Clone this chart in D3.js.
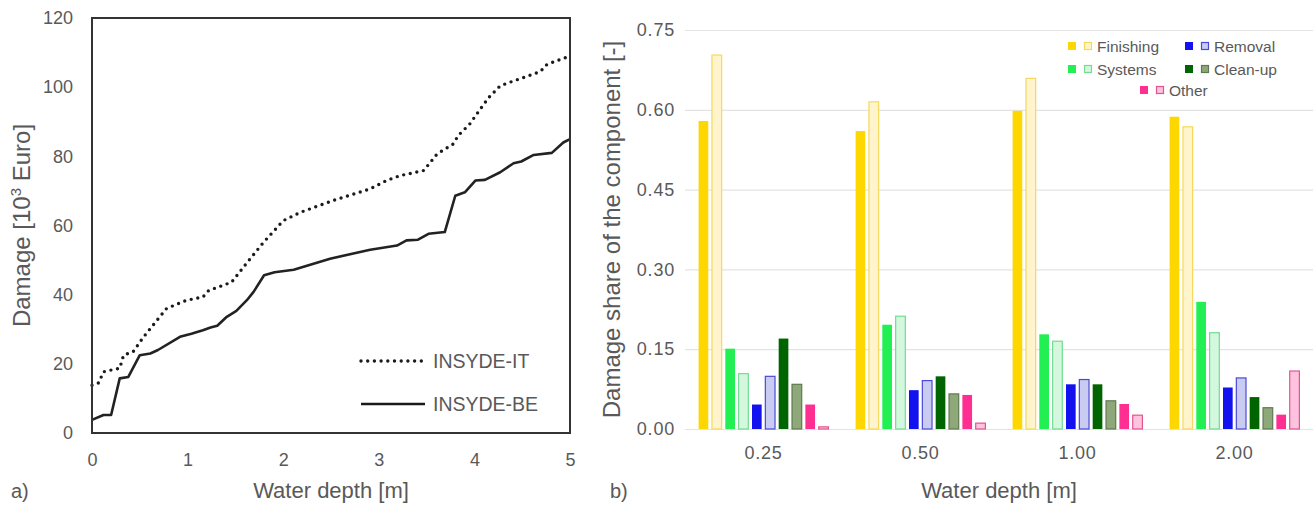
<!DOCTYPE html>
<html>
<head>
<meta charset="utf-8">
<script src="https://cdn.jsdelivr.net/npm/d3@7"></script>
<style>
  body { margin: 0; background: #fff; }
  svg text { font-family: "Liberation Sans", Arial, sans-serif; fill: #595959; }
</style>
</head>
<body>
<div id="chart"></div>
<script>
// ---- data: panel a) damage curves ----
var depthsBE = [0, 0.12, 0.2, 0.29, 0.38, 0.5, 0.61, 0.69, 0.92, 1.04, 1.16, 1.24, 1.31, 1.41, 1.51, 1.62, 1.69, 1.8, 1.91, 2.11, 2.49, 2.91, 3.19, 3.29, 3.41, 3.52, 3.69, 3.8, 3.9, 4.01, 4.11, 4.27, 4.41, 4.49, 4.62, 4.81, 4.93, 5];
var damageBE = [3.8, 5.2, 5.2, 15.8, 16.2, 22.5, 23, 24, 27.8, 28.7, 29.7, 30.5, 31, 33.6, 35.3, 38.4, 40.8, 45.6, 46.5, 47.2, 50.4, 53, 54.2, 55.7, 55.9, 57.6, 58.1, 68.6, 69.6, 73, 73.2, 75.4, 78, 78.5, 80.4, 81, 84, 85];

var depthsIT = [0, 0.07, 0.12, 0.2, 0.29, 0.33, 0.43, 0.54, 0.68, 0.78, 0.99, 1.16, 1.22, 1.46, 1.6, 1.79, 2.0, 2.18, 2.52, 2.91, 3.08, 3.22, 3.47, 3.61, 3.78, 3.83, 3.95, 4.06, 4.15, 4.27, 4.41, 4.69, 4.76, 5];
var damageIT = [13.8, 14.5, 17.7, 18.2, 18.7, 22.5, 23.5, 27.8, 32.6, 36, 38.4, 39.3, 41.2, 43.6, 48.5, 55, 61.4, 63.8, 67.2, 70.6, 73, 74.4, 75.9, 80.7, 83.6, 86, 89.3, 93.6, 97, 100.4, 101.8, 104.5, 106.6, 109];

var lineTicksX = [0, 1, 2, 3, 4, 5];
var lineTicksY = [0, 20, 40, 60, 80, 100, 120];

// ---- data: panel b) damage shares ----
var depthLabels = ["0.25", "0.50", "1.00", "2.00"];
var components = ["Finishing", "Systems", "Removal", "Clean-up", "Other"];

var finishingSolid = [0.579, 0.560, 0.598, 0.587];
var finishingLight = [0.703, 0.615, 0.659, 0.568];
var systemsSolid   = [0.151, 0.196, 0.178, 0.239];
var systemsLight   = [0.104, 0.212, 0.165, 0.181];
var removalSolid   = [0.046, 0.073, 0.084, 0.078];
var removalLight   = [0.099, 0.091, 0.093, 0.096];
var cleanupSolid   = [0.170, 0.099, 0.084, 0.060];
var cleanupLight   = [0.084, 0.066, 0.053, 0.040];
var otherSolid     = [0.046, 0.064, 0.047, 0.027];
var otherLight     = [0.004, 0.011, 0.026, 0.109];

var shareTicks = [0, 0.15, 0.30, 0.45, 0.60, 0.75];

// colours per component: [solid fill, light fill, light stroke]
var colors = {
  "Finishing": ["#ffd700", "#fff4cc", "#f5d95c"],
  "Systems":   ["#22ef52", "#d3f8de", "#72dc93"],
  "Removal":   ["#1212ee", "#c9cbf3", "#4a4ad8"],
  "Clean-up":  ["#006400", "#8fa87a", "#5f7a4f"],
  "Other":     ["#ff2f92", "#ffc3df", "#e0558f"]
};

var svg = d3.select("#chart").append("svg")
    .attr("width", 1314)
    .attr("height", 510);

// ================= panel a) =================
var a = {left: 92, right: 570, top: 18, bottom: 433};

var x = d3.scaleLinear().domain([0, 5]).range([a.left, a.right]);
var y = d3.scaleLinear().domain([0, 120]).range([a.bottom, a.top]);

svg.append("g")
    .attr("transform", "translate(0," + a.bottom + ")")
    .call(d3.axisBottom(x).tickValues(lineTicksX).tickSize(0).tickPadding(20).tickFormat(d3.format("d")))
    .call(g => g.select(".domain").remove())
    .selectAll("text").style("font-size", "18px").attr("fill", "#595959");

svg.append("g")
    .attr("transform", "translate(" + a.left + ",0)")
    .call(d3.axisLeft(y).tickValues(lineTicksY).tickSize(0).tickPadding(19))
    .call(g => g.select(".domain").remove())
    .selectAll("text").style("font-size", "18px").attr("fill", "#595959");

var line = d3.line().x(d => x(d[0])).y(d => y(d[1]));

// Add the two damage curves
svg.append("path")
    .datum(d3.zip(depthsIT, damageIT))
    .attr("fill", "none")
    .attr("stroke", "#1a1a1a")
    .attr("stroke-width", 3.4)
    .attr("stroke-linecap", "round")
    .attr("stroke-dasharray", "0 6.7")
    .attr("d", line);

svg.append("path")
    .datum(d3.zip(depthsBE, damageBE))
    .attr("fill", "none")
    .attr("stroke", "#222")
    .attr("stroke-width", 2.6)
    .attr("stroke-linejoin", "round")
    .attr("d", line);

// frame
svg.append("rect")
    .attr("x", a.left).attr("y", a.top)
    .attr("width", a.right - a.left).attr("height", a.bottom - a.top)
    .attr("fill", "none").attr("stroke", "#333").attr("stroke-width", 2);

// legend a)
var legA = [["INSYDE-IT", "0 6.7", 3.4, 361], ["INSYDE-BE", null, 2.6, 404]];
legA.forEach(function(l) {
  svg.append("line")
      .attr("x1", 361).attr("x2", 425).attr("y1", l[3]).attr("y2", l[3])
      .attr("stroke", "#1a1a1a").attr("stroke-width", l[2])
      .attr("stroke-linecap", l[1] ? "round" : "butt")
      .attr("stroke-dasharray", l[1]);
  svg.append("text")
      .attr("x", 433).attr("y", l[3] + 7)
      .style("font-size", "19.5px")
      .text(l[0]);
});

svg.append("text")
    .attr("x", (a.left + a.right) / 2).attr("y", 498)
    .attr("text-anchor", "middle").style("font-size", "22px")
    .text("Water depth [m]");

svg.append("text")
    .attr("transform", "translate(30," + ((a.top + a.bottom) / 2) + ") rotate(-90)")
    .attr("text-anchor", "middle").style("font-size", "24px")
    .html("Damage [10<tspan dy='-9' style='font-size:15px'>3</tspan><tspan dy='9'> Euro]</tspan>");

svg.append("text").attr("x", 11).attr("y", 498).style("font-size", "20px").text("a)");

// ================= panel b) =================
var b = {left: 685, right: 1313, top: 30, bottom: 429};

var series = [];
components.forEach(function(c) {
  var key = c === "Clean-up" ? "cleanup" : c.toLowerCase();
  var solid = window[key + "Solid"], light = window[key + "Light"];
  series.push({comp: c, kind: "solid", values: solid});
  series.push({comp: c, kind: "light", values: light});
});

var x0 = d3.scaleBand().domain(depthLabels).range([b.left, b.right])
    .paddingInner(0.15).paddingOuter(0.075);
var x1 = d3.scaleBand().domain(d3.range(series.length)).range([0, x0.bandwidth()])
    .paddingInner(0.2).paddingOuter(0.1);
var yb = d3.scaleLinear().domain([0, 0.75]).range([b.bottom, b.top]);

// gridlines + y labels
svg.append("g")
    .attr("transform", "translate(" + b.left + ",0)")
    .call(d3.axisLeft(yb).tickValues(shareTicks).tickSize(-(b.right - b.left)).tickPadding(10).tickFormat(d3.format(".2f")))
    .call(g => g.select(".domain").remove())
    .call(g => g.selectAll(".tick line").attr("stroke", "#e3e3e3").attr("stroke-width", 1.2))
    .selectAll("text").style("font-size", "18px").style("letter-spacing", "0.8px").attr("fill", "#595959");

svg.append("g")
    .attr("transform", "translate(0," + b.bottom + ")")
    .call(d3.axisBottom(x0).tickSize(0).tickPadding(17))
    .call(g => g.select(".domain").remove())
    .selectAll("text").style("font-size", "18px").style("letter-spacing", "0.8px").attr("fill", "#595959");

var groups = svg.append("g").selectAll("g")
    .data(depthLabels)
    .join("g")
    .attr("transform", d => "translate(" + x0(d) + ",0)");

groups.selectAll("rect")
    .data((d, gi) => series.map((s, si) => ({si: si, s: s, v: s.values[gi]})))
    .join("rect")
    .attr("x", d => x1(d.si) + 0.5)
    .attr("y", d => yb(d.v))
    .attr("width", x1.bandwidth() - 1)
    .attr("height", d => yb(0) - yb(d.v))
    .attr("fill", d => d.s.kind === "solid" ? colors[d.s.comp][0] : colors[d.s.comp][1])
    .attr("stroke", d => d.s.kind === "solid" ? "none" : colors[d.s.comp][2])
    .attr("stroke-width", 1.2);

// legend b)
var legB = [
  {comp: "Finishing", x: 1068, y: 42},
  {comp: "Removal",   x: 1185, y: 42},
  {comp: "Systems",   x: 1068, y: 65},
  {comp: "Clean-up",  x: 1185, y: 65},
  {comp: "Other",     x: 1140, y: 86}
];
legB.forEach(function(l) {
  var c = colors[l.comp];
  svg.append("rect").attr("x", l.x).attr("y", l.y).attr("width", 8).attr("height", 8).attr("fill", c[0]);
  svg.append("rect").attr("x", l.x + 16.5).attr("y", l.y + 0.5).attr("width", 7).attr("height", 7)
      .attr("fill", c[1]).attr("stroke", c[2]).attr("stroke-width", 1.2);
  svg.append("text").attr("x", l.x + 29).attr("y", l.y + 10)
      .style("font-size", "15.5px").text(l.comp);
});

svg.append("text")
    .attr("x", (b.left + b.right) / 2).attr("y", 498)
    .attr("text-anchor", "middle").style("font-size", "22px")
    .text("Water depth [m]");

svg.append("text")
    .attr("transform", "translate(620," + ((b.top + b.bottom) / 2) + ") rotate(-90)")
    .attr("text-anchor", "middle").style("font-size", "24px")
    .text("Damage share of the component [-]");

svg.append("text").attr("x", 610).attr("y", 498).style("font-size", "20px").text("b)");
</script>
</body>
</html>
